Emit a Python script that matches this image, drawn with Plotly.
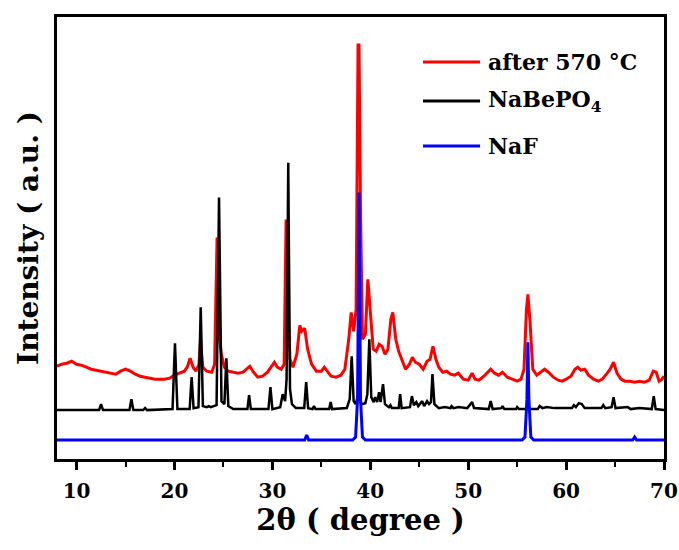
import plotly.graph_objects as go

# ---- data (intensity in arbitrary units, offsets included as in the figure) ----
red_x = [8.0, 8.5, 9.0, 9.5, 10.0, 10.5, 11.0, 11.5, 12.0, 12.5, 13.0, 13.5, 14.0, 14.5, 15.0,
         15.5, 16.0, 16.5, 17.0, 17.5, 18.0, 18.5, 19.0, 19.5, 20.0, 20.5, 21.0, 21.3, 21.6,
         21.9, 22.2, 22.5, 22.65, 22.9, 23.3, 23.8, 24.1, 24.35, 24.6, 24.8, 25.1, 25.5, 26.0,
         26.5, 27.0, 27.5, 27.7, 28.0, 28.5, 29.0, 29.5, 30.0, 30.2, 30.5, 30.9, 31.2, 31.4,
         31.6, 31.8, 32.1, 32.5, 32.8, 33.0, 33.3, 33.6, 34.0, 34.5, 35.0, 35.3, 35.6, 36.0,
         36.5, 37.0, 37.4, 37.8, 38.05, 38.3, 38.55, 38.75, 38.85, 39.0, 39.2, 39.5, 39.75,
         40.0, 40.3, 40.6, 40.9, 41.2, 41.5, 41.8, 42.1, 42.3, 42.6, 42.9, 43.2, 43.6, 44.0,
         44.3, 44.6, 45.0, 45.4, 45.8, 46.1, 46.4, 46.7, 47.0, 47.4, 47.8, 48.2, 48.6, 49.0,
         49.5, 50.0, 50.4, 50.7, 51.1, 51.6, 52.0, 52.3, 52.7, 53.1, 53.5, 54.0, 54.5, 55.0,
         55.4, 55.7, 55.95, 56.1, 56.3, 56.6, 57.0, 57.4, 57.8, 58.2, 58.7, 59.2, 59.6, 60.0,
         60.5, 60.9, 61.2, 61.5, 61.9, 62.3, 62.8, 63.3, 63.7, 64.2, 64.5, 64.85, 65.2, 65.6,
         66.0, 66.5, 67.0, 67.5, 68.0, 68.5, 68.9, 69.2, 69.5, 69.8, 70.0]
red_y = [93, 95, 96, 98, 95, 94, 92, 90, 89, 88, 87, 86, 85, 88, 90,
         88, 85, 83, 82, 81, 80, 80, 80, 81, 84, 86, 88, 92, 101,
         92, 88, 95, 118, 92, 88, 87, 95, 222, 120, 104, 92, 88, 87,
         86, 87, 92, 93, 88, 82, 83, 87, 94, 97, 92, 90, 95, 240,
         150, 100, 92, 105, 134, 128, 131, 110, 95, 88, 88, 92, 88, 83,
         82, 84, 90, 120, 147, 128, 150, 415, 415, 250, 120, 125, 180,
         150, 110, 108, 115, 113, 105, 110, 140, 147, 120, 108, 100, 90, 95,
         102, 97, 95, 90, 98, 100, 113, 100, 92, 87, 88, 85, 84, 86,
         80, 79, 86, 80, 79, 83, 87, 90, 86, 84, 87, 82, 80, 78,
         80, 90, 150, 165, 140, 90, 84, 87, 90, 87, 82, 79, 78, 80,
         83, 90, 92, 89, 90, 84, 80, 78, 80, 86, 90, 97, 86, 80,
         78, 78, 77, 78, 77, 79, 88, 87, 78, 80, 83]

black_x = [8, 12.3, 12.5, 12.7, 15.4, 15.6, 15.8, 16.8, 17.0, 17.2, 19.8, 20.05, 20.3, 21.55,
           21.75, 21.95, 22.45, 22.68, 22.9, 23.3, 23.5, 23.7, 24.3, 24.55, 24.8, 25.1, 25.3,
           25.5, 26.0, 27.45, 27.62, 27.8, 29.6, 29.8, 30.0, 30.8, 31.05, 31.3, 31.45, 31.62,
           31.8, 32.0, 32.4, 33.25, 33.45, 33.65, 34.1, 34.25, 34.4, 35.8, 35.95, 36.1, 37.6,
           37.9, 38.1, 38.3, 38.5, 38.8, 39.1, 39.5, 39.7, 39.9, 40.1, 40.35, 40.5, 40.7, 40.9,
           41.05, 41.3, 41.5, 41.9, 42.05, 42.2, 42.9, 43.05, 43.2, 44.05, 44.25, 44.45, 44.7,
           44.9, 45.3, 45.5, 45.8, 46.0, 46.2, 46.35, 46.55, 47.0, 47.6, 48.2, 48.3, 48.5, 49.0,
           49.9, 50.2, 50.4, 50.6, 52.1, 52.3, 52.5, 53.4, 53.5, 53.7, 54.9, 55.0, 55.2, 57.1,
           57.3, 57.6, 58.0, 58.8, 60.6, 60.8, 61.0, 61.3, 61.6, 61.9, 63.6, 63.8, 64.0, 64.65,
           64.85, 65.05, 66.3, 66.6, 67.5, 68.75, 68.95, 69.15, 70]
black_y = [49, 49, 55, 49, 49, 60, 49, 49, 51, 49, 50, 116, 50, 50,
           82, 51, 52, 152, 53, 52, 53, 52, 54, 262, 58, 55, 101,
           53, 50, 50, 64, 50, 50, 72, 50, 52, 65, 58, 80, 297,
           70, 55, 51, 51, 77, 51, 50, 53, 50, 50, 57, 50, 51,
           60, 103, 58, 55, 65, 55, 56, 65, 120, 62, 57, 62, 57, 67,
           57, 75, 55, 52, 54, 51, 51, 65, 51, 52, 63, 54, 57,
           53, 58, 53, 58, 55, 57, 85, 55, 51, 52, 51, 53, 51, 52,
           51, 54, 57, 51, 50, 58, 50, 51, 53, 50, 50, 52, 50, 50,
           53, 51, 52, 51, 51, 54, 52, 56, 55, 51, 51, 54, 51, 52,
           62, 51, 52, 50, 51, 50, 63, 50, 49]

blue_x = [8, 33.3, 33.5, 33.7, 38.2, 38.5, 38.7, 38.85, 39.0, 39.2, 39.5, 55.5, 55.8, 56.0,
          56.1, 56.2, 56.4, 56.7, 66.8, 67.0, 67.2, 70]
blue_y = [19, 19, 24, 19, 19, 22, 60, 267, 60, 22, 19, 19, 22, 60,
          117, 60, 22, 19, 19, 22, 19, 19]

names = ["after 570 °C", "NaBePO<sub>4</sub>", "NaF"]
colors = ["#ff0000", "#000000", "#0000ff"]

FONT = "DejaVu Serif"

fig = go.Figure()
fig.add_trace(go.Scatter(x=red_x, y=red_y, mode="lines", name=names[0],
                         line=dict(color=colors[0], width=3)))
fig.add_trace(go.Scatter(x=black_x, y=black_y, mode="lines", name=names[1],
                         line=dict(color=colors[1], width=2.5)))
fig.add_trace(go.Scatter(x=blue_x, y=blue_y, mode="lines", name=names[2],
                         line=dict(color=colors[2], width=3)))

# manual legend (longer line samples than plotly's default)
leg_y = [0.898, 0.81, 0.708]
for i in range(3):
    fig.add_shape(type="line", xref="paper", yref="paper",
                  x0=0.603, x1=0.697, y0=leg_y[i], y1=leg_y[i],
                  line=dict(color=colors[i], width=3))
    fig.add_annotation(xref="paper", yref="paper", x=0.707, y=leg_y[i],
                       xanchor="left", yanchor="middle", showarrow=False,
                       text="<b>" + names[i] + "</b>",
                       font=dict(family=FONT, size=22, color="black"))

fig.update_layout(
    width=679, height=550,
    margin=dict(l=57, r=15, t=17, b=91),
    paper_bgcolor="white", plot_bgcolor="white",
    showlegend=False,
    font=dict(family=FONT, color="black"),
)
fig.update_xaxes(
    range=[8, 70], tick0=10, dtick=10, automargin=False,
    showline=True, linecolor="black", linewidth=2.5, mirror=True,
    ticks="outside", ticklen=8, tickwidth=2.5, tickcolor="black",
    minor=dict(dtick=5, tick0=5, ticks="outside", ticklen=5, tickwidth=2, tickcolor="black"),
    tickfont=dict(family=FONT, size=20, color="black", weight="bold"),
    ticklabelstandoff=4,
    showgrid=False, zeroline=False,
    title=dict(text="<b>2θ ( degree )</b>", font=dict(family=FONT, size=29, color="black"),
               standoff=4),
)
fig.update_yaxes(
    range=[0, 443], automargin=False,
    showline=True, linecolor="black", linewidth=2.5, mirror=True,
    ticks="", showticklabels=False, showgrid=False, zeroline=False,
    title=dict(text="<b>Intensity ( a.u. )</b>", font=dict(family=FONT, size=28, color="black"),
               standoff=8),
)

fig.write_html("out.html")
